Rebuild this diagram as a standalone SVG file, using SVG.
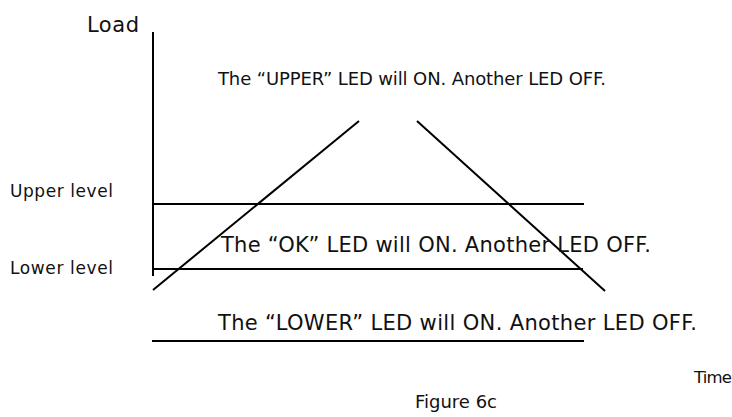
<svg xmlns="http://www.w3.org/2000/svg" width="732" height="417" viewBox="0 0 732 417">
<style>
.t{font-family:"DejaVu Sans","Liberation Sans",Arial,sans-serif;fill:#111;}
.l{stroke:#000;stroke-width:2;fill:none;}
</style>
<rect width="732" height="417" fill="#fff"/>
<g id="axes">
<line class="l" x1="153" y1="32" x2="153" y2="276"/>
<text class="t" x="87" y="32" font-size="21" textLength="52" lengthAdjust="spacing">Load</text>
<text class="t" x="694" y="383" font-size="16.5" textLength="38" lengthAdjust="spacing">Time</text>
</g>
<g id="levels">
<line class="l" x1="153" y1="204" x2="584" y2="204"/>
<line class="l" x1="153" y1="269" x2="583" y2="269"/>
<line class="l" x1="152" y1="341" x2="584" y2="341"/>
<text class="t" x="10" y="197" font-size="17" textLength="103" lengthAdjust="spacing">Upper level</text>
<text class="t" x="10" y="274" font-size="17" textLength="103" lengthAdjust="spacing">Lower level</text>
</g>
<g id="connectors">
<line class="l" x1="153" y1="290" x2="359" y2="121"/>
<line class="l" x1="417" y1="121" x2="605" y2="291"/>
</g>
<g id="upper-text">
<text class="t" x="218" y="85" font-size="18" textLength="388" lengthAdjust="spacing">The “UPPER” LED will ON. Another LED OFF.</text>
</g>
<g id="ok-text">
<text class="t" x="221" y="252" font-size="21" textLength="430" lengthAdjust="spacing">The “OK” LED will ON. Another LED OFF.</text>
</g>
<g id="lower-text">
<text class="t" x="218" y="330" font-size="21" textLength="479" lengthAdjust="spacing">The “LOWER” LED will ON. Another LED OFF.</text>
</g>
<g id="caption">
<text class="t" x="415" y="408" font-size="18" textLength="82" lengthAdjust="spacing">Figure 6c</text>
</g>
</svg>
